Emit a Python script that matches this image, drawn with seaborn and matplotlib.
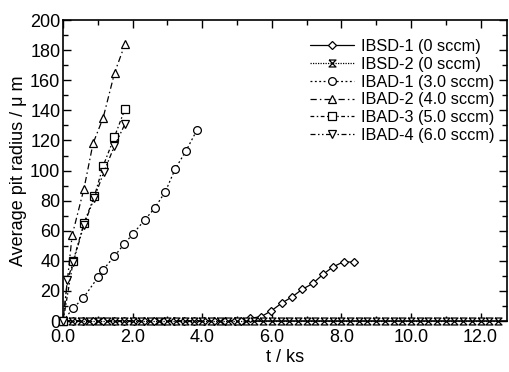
import matplotlib
matplotlib.use("Agg")
import matplotlib.pyplot as plt
import seaborn as sns
import numpy as np
from matplotlib.ticker import MultipleLocator, FormatStrFormatter

sns.set_theme(style="ticks")
plt.rcParams['font.family'] = ['Liberation Sans', 'DejaVu Sans']

# ---- data ----
ibsd1_t = [0, 0.29, 0.58, 0.87, 1.16, 1.45, 1.74, 2.03, 2.32, 2.61, 2.9, 3.19, 3.48,
           3.77, 4.06, 4.35, 4.64, 4.93, 5.1, 5.37, 5.69, 5.98, 6.29, 6.58, 6.87,
           7.18, 7.47, 7.76, 8.07, 8.36]
ibsd1_r = [0, 0, 0, 0, 0, 0, 0, 0, 0, 0, 0, 0, 0, 0, 0, 0, 0, 0, 0, 1.8, 2.9, 6.7,
           12, 16, 21, 25, 31, 36, 39.5, 39]

ibsd2_t = [0, 0.25, 0.5, 0.75, 1.0, 1.25, 1.5, 1.75, 2.0, 2.25, 2.5, 2.75, 3.0, 3.25,
           3.5, 3.75, 4.0, 4.25, 4.5, 4.75, 5.0, 5.25, 5.5, 5.75, 6.0, 6.25, 6.5,
           6.75, 7.0, 7.25, 7.5, 7.75, 8.0, 8.25, 8.5, 8.75, 9.0, 9.25, 9.5, 9.75,
           10.0, 10.25, 10.5, 10.75, 11.0, 11.25, 11.5, 11.75, 12.0, 12.25, 12.5]
ibsd2_r = [0] * 51

ibad1_t = [0, 0.29, 0.57, 1.0, 1.15, 1.47, 1.75, 2.01, 2.34, 2.63, 2.94, 3.22, 3.53, 3.85]
ibad1_r = [0, 8.7, 15, 29, 34, 43, 51, 58, 67, 75, 86, 101, 113, 127]

ibad2_t = [0, 0.26, 0.6, 0.86, 1.15, 1.48, 1.78]
ibad2_r = [0, 57, 88, 118, 135, 165, 184]

ibad3_t = [0, 0.29, 0.6, 0.9, 1.15, 1.47, 1.78]
ibad3_r = [0, 40, 65, 83, 103, 122, 141]

ibad4_t = [0, 0.12, 0.29, 0.6, 0.9, 1.17, 1.47, 1.78]
ibad4_r = [0, 27, 39, 64, 82, 99, 116, 131]

labels = ["IBSD-1 (0 sccm)", "IBSD-2 (0 sccm)", "IBAD-1 (3.0 sccm)",
          "IBAD-2 (4.0 sccm)", "IBAD-3 (5.0 sccm)", "IBAD-4 (6.0 sccm)"]

hourglass = [(-1, 1), (1, 1), (-1, -1), (1, -1), (-1, 1)]

series = [
    (ibsd1_t, ibsd1_r, "D", "-", 4.5),
    (ibsd2_t, ibsd2_r, hourglass, (0, (1, 1)), 5.0),
    (ibad1_t, ibad1_r, "o", (0, (1.5, 2)), 5.6),
    (ibad2_t, ibad2_r, "^", (0, (5, 2.5, 1.2, 2.5)), 6.2),
    (ibad3_t, ibad3_r, "s", (0, (3, 2, 1.2, 2)), 5.6),
    (ibad4_t, ibad4_r, "v", (0, (4, 2, 1.2, 2, 1.2, 2)), 6.2),
]

fig = plt.figure(figsize=(5.09, 3.72), dpi=100)
ax = fig.add_axes([0.124, 0.137, 0.872, 0.809])

for (t, r, mk, ls, ms), lab in zip(series, labels):
    sns.lineplot(x=t, y=r, ax=ax, color="black", marker=mk, linestyle=ls,
                 markersize=ms, markerfacecolor="white", markeredgecolor="black",
                 markeredgewidth=0.9, linewidth=0.9, label=lab, sort=False,
                 estimator=None, clip_on=False, zorder=3)

ax.set_xlim(0, 12.76)
ax.set_ylim(0, 200)
ax.xaxis.set_major_locator(MultipleLocator(2))
ax.xaxis.set_minor_locator(MultipleLocator(1))
ax.yaxis.set_major_locator(MultipleLocator(20))
ax.yaxis.set_minor_locator(MultipleLocator(10))
ax.xaxis.set_major_formatter(FormatStrFormatter("%.1f"))
ax.tick_params(which="both", direction="in", top=True, right=True,
               labelsize=13, colors="black", width=1.0)
ax.tick_params(axis="y", pad=2)
ax.tick_params(axis="x", pad=6)
ax.tick_params(which="major", length=6)
ax.tick_params(which="minor", length=3.5)
for s in ax.spines.values():
    s.set_visible(True)
    s.set_color("black")
    s.set_linewidth(1.2)

ax.set_xlabel("t / ks", fontsize=13, color="black", labelpad=2)
ax.set_ylabel("Average pit radius / μ m", fontsize=13, color="black", labelpad=2)

leg = ax.legend(loc="upper left", bbox_to_anchor=(310 / 509, 1 - 39 / 372),
                bbox_transform=fig.transFigure, frameon=False,
                fontsize=11.7, handlelength=2.7, handletextpad=0.45,
                labelspacing=0.17, borderaxespad=0, borderpad=0)
for txt in leg.get_texts():
    txt.set_color("black")

fig.savefig("out.png", dpi=100)
